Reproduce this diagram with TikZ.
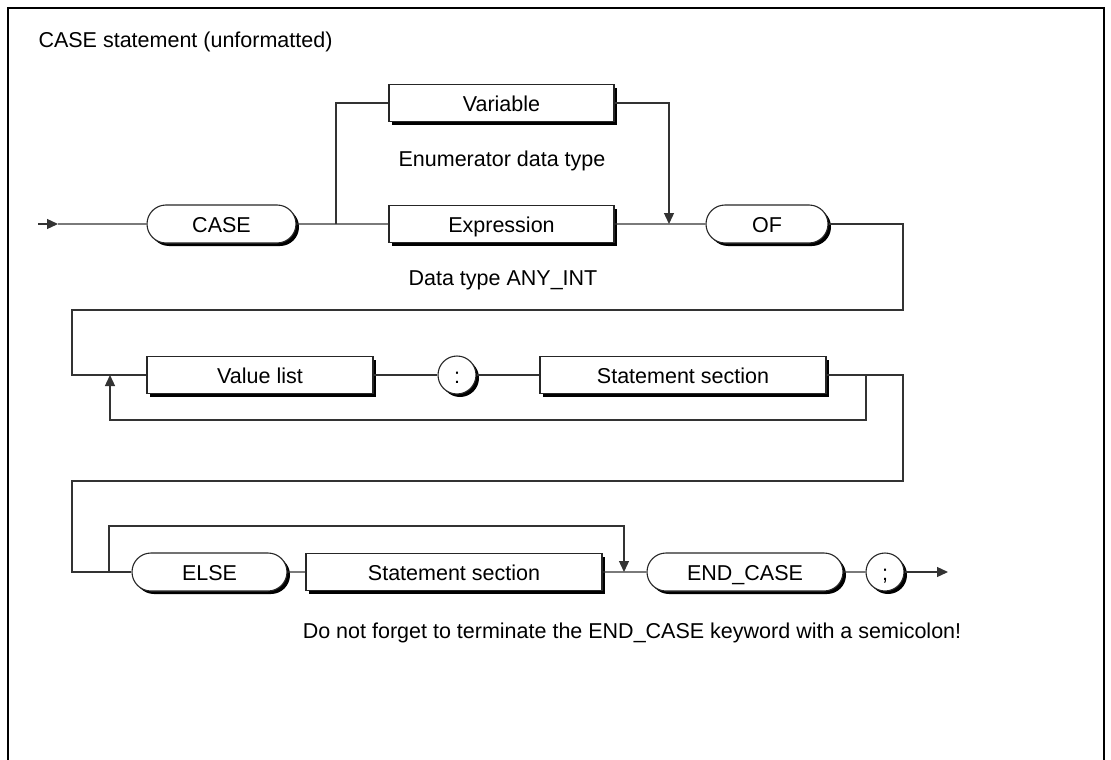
\documentclass[tikz,border=0pt]{standalone}
\usepackage{fontspec}
\setmainfont{Liberation Sans}
\usetikzlibrary{positioning,arrows.meta,shapes.misc,shadows}

\begin{document}
\begin{tikzpicture}[x=1pt,y=-1pt,font=\fontsize{21.5}{26}\selectfont,
  conn/.style={black!80,line width=1.3pt},
  arr/.style={conn,-{Triangle[length=11pt,width=10pt]}},
  shad/.style={drop shadow={shadow xshift=3pt,shadow yshift=-3pt,fill=black,opacity=1}},
  box/.style={draw=black!85,fill=white,line width=1.1pt,inner sep=0pt,text height=17pt,text depth=0pt,shad},
  nterm/.style={box,rectangle,minimum height=37pt},
  term/.style={box,rounded rectangle,minimum height=38pt},
  lit/.style={box,circle,minimum size=38pt}]
\useasboundingbox (0,0) rectangle (1111,760);
\draw[line width=2pt] (8,760) -- (8,8) -- (1104,8) -- (1104,760);
\node[anchor=base west] (title) at (35,48) {CASE statement (unformatted)};

\node[term,minimum width=149pt] (case) at (221.5,224) {CASE};
\node[nterm,minimum width=225pt] (var) at (501.5,103) {Variable};
\node[nterm,minimum width=225pt] (expr) at (501.5,224) {Expression};
\node[term,minimum width=122pt] (of) at (767,224) {OF};
\node[anchor=base] (enum) at (502,166) {Enumerator data type};
\node[anchor=base] (anyint) at (503,285) {Data type ANY\_INT};

\node[nterm,minimum width=226pt] (vlist) at (260,375) {Value list};
\node[lit] (colon) at (457,375) {:};
\node[nterm,minimum width=286pt] (stmt) at (683,375) {Statement section};

\node[term,minimum width=155pt] (else) at (209.5,572) {ELSE};
\node[nterm,minimum width=296pt] (stmtB) at (454,572) {Statement section};
\node[term,minimum width=196pt] (endcase) at (745,572) {END\_CASE};
\node[lit] (semi) at (885,572) {;};
\node[anchor=base] (note) at (632,638) {Do not forget to terminate the END\_CASE keyword with a semicolon!};

\coordinate (in) at (38,224);
\coordinate (inTip) at (58,224);
\coordinate (split1) at (336,224);
\coordinate (join1) at (669,224);
\coordinate (downR) at (903,310);
\coordinate (downL) at (72,310);
\coordinate (loopR) at (866,375);
\coordinate (loopB) at (866,420);
\coordinate (loopL) at (110,375);
\coordinate (outR) at (903,481);
\coordinate (outL) at (72,481);
\coordinate (split3) at (109,572);
\coordinate (top3) at (624,526);
\coordinate (join3) at (624,572);
\coordinate (out) at (948,572);

\draw[arr] (in) -- (inTip);
\draw[conn] (inTip) -- (case) -- (expr) -- (of);
\draw[conn] (split1) |- (var);
\draw[arr] (var) -| (join1);
\draw[conn] (of) -| (downR) -- (downL) |- (vlist);
\draw[conn] (vlist) -- (colon) -- (stmt) -- (loopR);
\draw[arr] (loopR) -- (loopB) -| (loopL);
\draw[conn] (loopR) -| (outR) -- (outL) |- (else);
\draw[conn] (else) -- (stmtB) -- (endcase) -- (semi);
\draw[arr] (split3) |- (top3) -- (join3);
\draw[arr] (semi) -- (out);
\end{tikzpicture}
\end{document}
